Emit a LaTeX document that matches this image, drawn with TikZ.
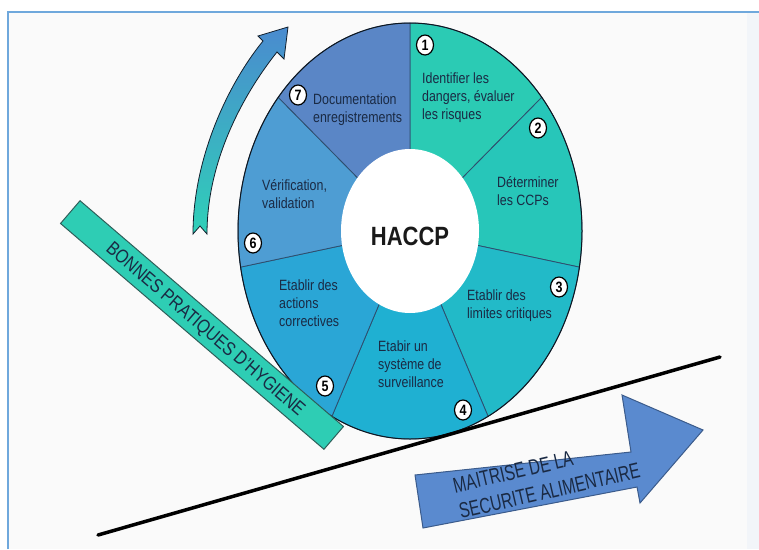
\documentclass[tikz,border=0pt]{standalone}
\usepackage{fontspec}
\setmainfont{Liberation Sans}
\usetikzlibrary{shapes.geometric}
\definecolor{pagebg}{HTML}{FAFAFA}
\definecolor{edgebg}{HTML}{F2F5F9}
\definecolor{frameblue}{HTML}{6FA8DC}
\definecolor{segA}{HTML}{2BCBB4}
\definecolor{segB}{HTML}{27C6B9}
\definecolor{segC}{HTML}{22BAC8}
\definecolor{segD}{HTML}{1FB0D2}
\definecolor{segE}{HTML}{2AA6D6}
\definecolor{segF}{HTML}{4E9DD3}
\definecolor{segG}{HTML}{5A86C6}
\definecolor{segline}{HTML}{2E4E6E}
\definecolor{navy}{HTML}{1A2A44}
\definecolor{barfill}{HTML}{2ECDB4}
\definecolor{barline}{HTML}{2F5F5A}
\definecolor{bigarrow}{HTML}{5A8ACF}
\definecolor{bigarrowline}{HTML}{3B5B8B}
\definecolor{curveteal}{HTML}{2FD0B8}
\definecolor{curveblue}{HTML}{4A8BCF}
% vertically stretched text
\newcommand\tallstack[1]{\scalebox{1}[1.2]{\begin{tabular}{@{}l@{}}#1\end{tabular}}}
\newcommand\tallword[1]{\scalebox{1}[1.2]{#1}}
\begin{document}
\begin{tikzpicture}[x=1pt,y=1pt,
  seglabel/.style={anchor=west, inner sep=0pt, text=navy,
    font=\fontsize{12.4}{15}\selectfont},
  badge/.style={ellipse, draw=black, fill=white, line width=1.2pt,
    minimum width=17pt, minimum height=20pt, inner sep=0pt,
    font=\bfseries\fontsize{12.5}{14}\selectfont},
  wedge/.style={draw=segline, line width=0.8pt},
]
\useasboundingbox (0,0) rectangle (759,-549);
% page and frame
\fill[white] (0,0) rectangle (759,-549);
\fill[pagebg] (8,-12) rectangle (759,-549);
\fill[edgebg] (747,-12) rectangle (759,-549);
\draw[frameblue, line width=2pt] (8,-549) -- (8,-12) -- (759,-12);

% the HACCP wheel
\coordinate (c) at (410,-231);
\newcommand\wedgepart[3]{%
  \filldraw[wedge, fill=#3] (c) -- ++(#1:172 and 208)
    arc[start angle=#1, end angle=#2, x radius=172, y radius=208] -- cycle;}
\wedgepart{40}{90}{segA}
\wedgepart{-10}{40}{segB}
\wedgepart{-63}{-10}{segC}
\wedgepart{-117}{-63}{segD}
\wedgepart{-170}{-117}{segE}
\wedgepart{140}{190}{segF}
\wedgepart{90}{140}{segG}
\draw[draw=black!70!segline, line width=1pt] (c) ellipse[x radius=172, y radius=208];
\fill[white] (c) ellipse[x radius=69, y radius=82];
\node[font=\bfseries\fontsize{22}{24}\selectfont, text=black!90] (haccp) at (410,-236) {\tallword{HACCP}};

% step labels
\node[seglabel] (t1) at (422,-98) {\tallstack{Identifier les\\dangers, évaluer\\les risques}};
\node[seglabel] (t2) at (497,-193) {\tallstack{Déterminer\\les CCPs}};
\node[seglabel] (t3) at (467,-306) {\tallstack{Etablir des\\limites critiques}};
\node[seglabel] (t4) at (378,-366) {\tallstack{Etabir un\\système de\\surveillance}};
\node[seglabel] (t5) at (279,-305) {\tallstack{Etablir des\\actions\\correctives}};
\node[seglabel] (t6) at (262,-196) {\tallstack{Vérification,\\validation}};
\node[seglabel] (t7) at (313,-110) {\tallstack{Documentation\\enregistrements}};

% step numbers
\node[badge] (n1) at (425,-45) {\tallword{1}};
\node[badge] (n2) at (538,-128) {\tallword{2}};
\node[badge] (n3) at (559,-287) {\tallword{3}};
\node[badge] (n4) at (463,-410) {\tallword{4}};
\node[badge] (n5) at (325,-386) {\tallword{5}};
\node[badge] (n6) at (253,-243) {\tallword{6}};
\node[badge] (n7) at (298,-95) {\tallword{7}};

% curved arrow around the wheel
\shadedraw[top color=curveblue, bottom color=curveteal, draw=black!60!segline, line width=0.8pt]
  (193,-234) .. controls (193,-158) and (228,-84) .. (263,-41)
  -- (258,-36) -- (288,-27) -- (284,-59) -- (277,-52)
  .. controls (242,-96) and (207,-162) .. (207,-234)
  -- (200,-226) -- cycle;

% good hygiene practices band
\node[draw=barline, fill=barfill, line width=1pt, rotate=-40.6,
  minimum width=347pt, minimum height=30pt, inner sep=0pt] (bph) at (202,-325) {};
\node[rotate=-40.6, inner sep=0pt, text=navy, font=\fontsize{16}{18}\selectfont]
  (bphtext) at (205,-330) {\tallword{BONNES PRATIQUES D'HYGIENE}};

% ground line
\coordinate (g1) at (98,-535);
\coordinate (g2) at (720,-357);
\draw[black, line width=3.5pt, line cap=round] (g1) -- (g2);

% food safety arrow
\filldraw[fill=bigarrow, draw=bigarrowline, line width=1pt]
  (415,-475) -- (631,-452) -- (622,-395) -- (703,-430) -- (640,-503)
  -- (637,-487) -- (423,-528) -- cycle;
\node[rotate=13, text=navy, inner sep=0pt,
  font=\fontsize{15.5}{19}\selectfont] (msa) at (547,-480)
  {\scalebox{1}[1.4]{\begin{tabular}{@{}l@{}}MAITRISE DE LA\\SECURITE ALIMENTAIRE\end{tabular}}};
\end{tikzpicture}
\end{document}
